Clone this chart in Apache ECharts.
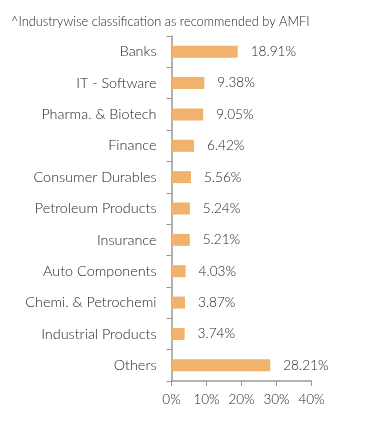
<!DOCTYPE html>
<html><head><meta charset="utf-8">
<script src="https://cdn.jsdelivr.net/npm/echarts@6/dist/echarts.min.js"></script>
<style>html,body{margin:0;padding:0;background:#fff;}#c{width:391px;height:434px;}</style>
</head><body><div id="c"></div>
<script>
const titleText = '^Industrywise classification as recommended by AMFI';
const categories = ['Banks','IT - Software','Pharma. & Biotech','Finance','Consumer Durables','Petroleum Products','Insurance','Auto Components','Chemi. & Petrochemi','Industrial Products','Others'];
const values = [18.91, 9.38, 9.05, 6.42, 5.56, 5.24, 5.21, 4.03, 3.87, 3.74, 28.21];
const xTicks = [0, 10, 20, 30, 40];

const font = 'Lato, "Open Sans", sans-serif';
const w = 300;
const txt = '#1e1e1e';
const chart = echarts.init(document.getElementById('c'));
chart.setOption({
  animation: false,
  title: { text: titleText, left: 6, top: 10, textStyle: { fontFamily: font, fontSize: 12.8, fontWeight: w, color: txt } },
  grid: { left: 171.5, right: 79.5, top: 36, bottom: 53 },
  xAxis: {
    type: 'value', min: xTicks[0], max: xTicks[xTicks.length-1], interval: 10,
    axisLine: { show: true, lineStyle: { color: '#999', width: 1.5 } },
    axisTick: { show: true, length: 5, lineStyle: { color: '#999' } },
    splitLine: { show: false },
    axisLabel: { formatter: v => v + '%', fontFamily: font, fontSize: 13.5, fontWeight: w, color: txt, margin: 12 }
  },
  yAxis: {
    type: 'category', data: categories, inverse: true,
    axisLine: { show: true, lineStyle: { color: '#999', width: 1.5 } },
    axisTick: { show: true, length: 5, lineStyle: { color: '#999' } },
    axisLabel: { fontFamily: font, fontSize: 14.4, fontWeight: w, color: txt, margin: 15 }
  },
  series: [{
    type: 'bar', data: values, barWidth: 12,
    itemStyle: { color: '#F0B26C' },
    label: { show: true, position: 'right', distance: 13, formatter: p => p.value.toFixed(2) + '%', fontFamily: font, fontSize: 13.6, fontWeight: w, color: txt }
  }]
});
</script></body></html>
